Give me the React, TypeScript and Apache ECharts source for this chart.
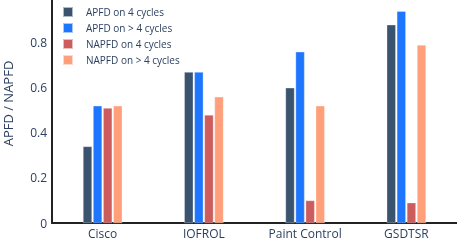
import React, { useEffect, useRef } from "react";
import * as echarts from "echarts";

const categories = ["Cisco", "IOFROL", "Paint Control", "GSDTSR"];
const seriesNames = ["APFD on 4 cycles", "APFD on > 4 cycles", "NAPFD on 4 cycles", "NAPFD on > 4 cycles"];
const apfd4 = [0.34, 0.67, 0.60, 0.88];
const apfdMore = [0.52, 0.67, 0.76, 0.94];
const napfd4 = [0.51, 0.48, 0.10, 0.09];
const napfdMore = [0.52, 0.56, 0.52, 0.79];
const colors = ["#3a5470", "#1f76fe", "#cd5c5c", "#ffa07a"];
const yTicks = [0, 0.2, 0.4, 0.6, 0.8];

export default function App() {
  const ref = useRef<HTMLDivElement>(null);
  useEffect(() => {
    const chart = echarts.init(ref.current!, null, { renderer: "svg" });
    const values = [apfd4, apfdMore, napfd4, napfdMore];
    const font = "'Open Sans', sans-serif";
    chart.setOption({
      animation: false,
      textStyle: { fontFamily: font },
      grid: { left: 52, right: 0, top: 0, bottom: 17, outerBoundsMode: "none", containLabel: false },
      legend: {
        orient: "vertical",
        left: 57,
        top: 1,
        itemWidth: 10,
        itemHeight: 10,
        itemGap: 4,
        icon: "rect",
        data: seriesNames,
        textStyle: { fontSize: 10, lineHeight: 10, color: "#2a3f5f", fontFamily: font, padding: [0, 0, 0, 8] },
      },
      xAxis: {
        type: "category",
        data: categories,
        axisLine: { lineStyle: { color: "#222", width: 2 } },
        axisTick: { show: false },
        axisLabel: { fontSize: 12, lineHeight: 12, color: "#2a3f5f", margin: 4, fontFamily: font },
      },
      yAxis: {
        type: "value",
        min: 0,
        max: 0.99,
        interval: 0.2,
        name: "APFD / NAPFD",
        nameLocation: "middle",
        nameGap: 38,
        nameTextStyle: { fontSize: 13, lineHeight: 13, color: "#2a3f5f", fontFamily: font, padding: [0, 0, 0, 16] },
        axisLine: { show: true, lineStyle: { color: "#222", width: 2 } },
        axisTick: { show: false },
        splitLine: { show: false },
        axisLabel: {
          fontSize: 12,
          color: "#2a3f5f",
          margin: 5,
          fontFamily: font,
          formatter: (v: number) => {
            const t = yTicks.find((x) => Math.abs(x - v) < 1e-6);
            return t === undefined ? "" : String(t);
          },
        },
      },
      series: seriesNames.map((name, i) => ({
        name,
        type: "bar",
        data: values[i],
        barWidth: 9,
        barGap: "12%",
        itemStyle: { color: colors[i], borderColor: "rgba(255,255,255,0.6)", borderWidth: 0.5 },
      })),
    });
    return () => chart.dispose();
  }, []);
  return <div ref={ref} style={{ position: "fixed", left: 0, top: 0, width: 457, height: 240 }} />;
}
